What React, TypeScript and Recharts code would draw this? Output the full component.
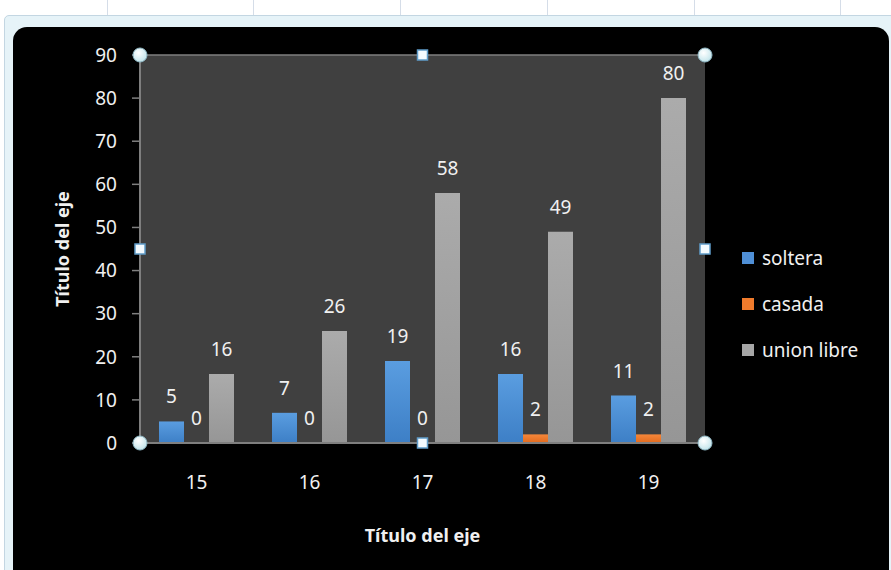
import React from 'react'
import {
  BarChart, Bar, XAxis, YAxis, CartesianGrid, Legend, LabelList, Rectangle,
} from 'recharts'

const categories = ['15', '16', '17', '18', '19']
const soltera = [5, 7, 19, 16, 11]
const casada = [0, 0, 0, 2, 2]
const unionLibre = [16, 26, 58, 49, 80]
const yTicks = [0, 10, 20, 30, 40, 50, 60, 70, 80, 90]

const SERIES = [
  { key: 'soltera', fill: 'url(#gBlue)', swatch: '#4f8fd6' },
  { key: 'casada', fill: 'url(#gOrange)', swatch: '#f07b2c' },
  { key: 'union libre', fill: 'url(#gGray)', swatch: '#a6a6a6' },
]

const W = 891
const H = 570
const FONT = '"Noto Sans", "Open Sans", sans-serif'
const TEXT = '#f0f0f0'
const LINE = '#7f7f7f'

// plot box used by the chart margins and by the selection handles
const PLOT = { left: 140, top: 55, right: 705, bottom: 443 }
const Y_AXIS_W = 90
const LEGEND_W = 149

const data = categories.map((c, i) => ({
  edad: c,
  soltera: soltera[i],
  casada: casada[i],
  'union libre': unionLibre[i],
}))

const sheetCols = [107, 253, 400, 547, 694, 840]

function AxisTitleY(props: any) {
  const vb = props.viewBox
  const x = vb.x + 12
  const y = vb.y + vb.height / 2
  return (
    <text x={x} y={y} transform={`rotate(-90 ${x} ${y})`} textAnchor="middle" dominantBaseline="central"
      fill={TEXT} fontSize={18} fontWeight={700} fontFamily={FONT}>
      Título del eje
    </text>
  )
}

function AxisTitleX(props: any) {
  const vb = props.viewBox
  return (
    <text x={vb.x + vb.width / 2} y={535} textAnchor="middle" dominantBaseline="central"
      fill={TEXT} fontSize={18} fontWeight={700} fontFamily={FONT}>
      Título del eje
    </text>
  )
}

// zero values keep a 1px slot (minPointSize) so their label shows, but no rect is painted
function BarShape(props: any) {
  if (!props.value) return <g />
  return <Rectangle {...props} />
}

// value above each bar, zeros included
function BarValue(props: any) {
  const { x, y, width, height, value } = props
  const top = value ? Number(y) : Number(y) + Number(height)
  return (
    <text x={Number(x) + Number(width) / 2} y={top - 18} textAnchor="middle"
      fill={TEXT} fontSize={19} fontFamily={FONT}>
      {value}
    </text>
  )
}

function LegendBox() {
  return (
    <div style={{ fontFamily: FONT, fontSize: 19, color: TEXT }}>
      {SERIES.map(s => (
        <div key={s.key} style={{ display: 'flex', alignItems: 'center', height: 46 }}>
          <span style={{ width: 12, height: 12, background: s.swatch, marginRight: 8, display: 'inline-block' }} />
          <span>{s.key}</span>
        </div>
      ))}
    </div>
  )
}

function Handles() {
  const { left, top, right, bottom } = PLOT
  const mx = (left + right) / 2
  const my = (top + bottom) / 2
  const circles = [[left, top], [right, top], [left, bottom], [right, bottom]]
  const squares = [[mx, top], [left, my], [right, my], [mx, bottom]]
  return (
    <svg width={W} height={H} style={{ position: 'absolute', left: 0, top: 0, pointerEvents: 'none' }}>
      <defs>
        <radialGradient id="hdl" cx="40%" cy="35%" r="70%">
          <stop offset="0%" stopColor="#ffffff" />
          <stop offset="100%" stopColor="#bfe3ea" />
        </radialGradient>
      </defs>
      {circles.map(([x, y], i) => (
        <circle key={i} cx={x} cy={y} r={7} fill="url(#hdl)" stroke="#8fb7c4" strokeWidth={1} />
      ))}
      {squares.map(([x, y], i) => (
        <rect key={i} x={x - 5} y={y - 5} width={10} height={10} fill="#f4fbff" stroke="#5f9cc9" strokeWidth={1.5} />
      ))}
    </svg>
  )
}

export default function App() {
  return (
    <div style={{ position: 'fixed', left: 0, top: 0, width: W, height: H, background: '#ffffff', overflow: 'hidden' }}>
      {/* worksheet behind the chart */}
      {sheetCols.map(x => (
        <div key={x} style={{ position: 'absolute', left: x, top: 0, width: 1, height: 16, background: '#d5dde8' }} />
      ))}
      <div style={{ position: 'absolute', left: 4, top: 15, width: 920, height: 600, background: '#e6f3f8', border: '1px solid #c3d6e2', borderRadius: 5 }} />
      <div style={{ position: 'absolute', left: 13, top: 27, width: 876, height: 600, background: '#000000', borderRadius: 14 }} />

      <div style={{ position: 'absolute', left: 0, top: 0 }}>
        <BarChart
          width={W}
          height={H}
          data={data}
          margin={{ top: PLOT.top, right: W - PLOT.right - LEGEND_W, bottom: 27, left: PLOT.left - Y_AXIS_W }}
          barGap={0}
          barCategoryGap={19}
        >
          <defs>
            <linearGradient id="gBlue" x1="0" y1="0" x2="0" y2="1">
              <stop offset="0%" stopColor="#5a9de0" />
              <stop offset="100%" stopColor="#3d7fc6" />
            </linearGradient>
            <linearGradient id="gOrange" x1="0" y1="0" x2="0" y2="1">
              <stop offset="0%" stopColor="#f5873a" />
              <stop offset="100%" stopColor="#e26a1e" />
            </linearGradient>
            <linearGradient id="gGray" x1="0" y1="0" x2="0" y2="1">
              <stop offset="0%" stopColor="#ababab" />
              <stop offset="100%" stopColor="#969696" />
            </linearGradient>
          </defs>
          <CartesianGrid vertical={false} stroke={LINE} strokeWidth={1.5} fill="#404040" />
          <XAxis
            dataKey="edad"
            height={100}
            axisLine={{ stroke: LINE, strokeWidth: 2 }}
            tickLine={false}
            tickSize={0}
            tickMargin={33}
            tick={{ fill: TEXT, fontSize: 19, fontFamily: FONT }}
            label={{ content: AxisTitleX }}
          />
          <YAxis
            yAxisId="left"
            width={Y_AXIS_W}
            domain={[0, 90]}
            ticks={yTicks}
            interval={0}
            axisLine={{ stroke: LINE, strokeWidth: 2 }}
            tickLine={{ stroke: LINE, strokeWidth: 1.5 }}
            tickSize={8}
            tickMargin={15}
            tick={{ fill: TEXT, fontSize: 19, fontFamily: FONT }}
            label={{ content: AxisTitleY }}
          />
          <YAxis
            yAxisId="border"
            orientation="right"
            width={0}
            domain={[0, 90]}
            tick={false}
            tickLine={false}
            axisLine={{ stroke: LINE, strokeWidth: 2 }}
          />
          <Legend
            layout="horizontal"
            verticalAlign="middle"
            align="right"
            content={() => <LegendBox />}
            wrapperStyle={{ left: 742, top: 235, width: LEGEND_W }}
          />
          {SERIES.map(s => (
            <Bar key={s.key} yAxisId="left" dataKey={s.key} fill={s.fill} minPointSize={1}
              shape={BarShape} isAnimationActive={false}>
              <LabelList dataKey={s.key} content={BarValue} />
            </Bar>
          ))}
        </BarChart>
      </div>
      <Handles />
    </div>
  )
}
